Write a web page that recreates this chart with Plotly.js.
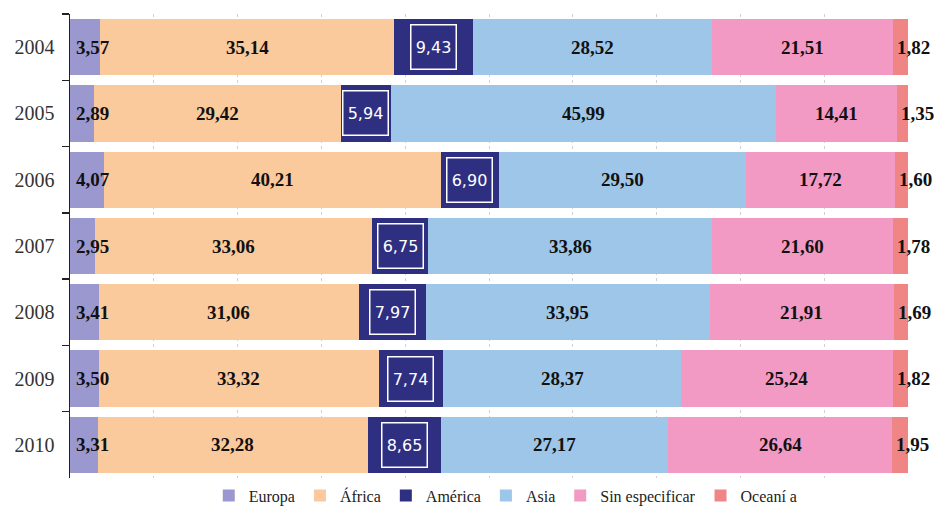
<!DOCTYPE html>
<html>
<head>
<meta charset="utf-8">
<script src="https://cdn.plot.ly/plotly-3.0.1.min.js"></script>
<style>html,body{margin:0;padding:0;background:#fff;}#chart{width:939px;height:508px;}</style>
</head>
<body>
<div id="chart"></div>
<script>
const years = ["2004","2005","2006","2007","2008","2009","2010"];
const europa = [3.57, 2.89, 4.07, 2.95, 3.41, 3.50, 3.31];
const africa = [35.14, 29.42, 40.21, 33.06, 31.06, 33.32, 32.28];
const america = [9.43, 5.94, 6.90, 6.75, 7.97, 7.74, 8.65];
const asia = [28.52, 45.99, 29.50, 33.86, 33.95, 28.37, 27.17];
const sinEsp = [21.51, 14.41, 17.72, 21.60, 21.91, 25.24, 26.64];
const oceania = [1.82, 1.35, 1.60, 1.78, 1.69, 1.82, 1.95];

const seriesNames = ["Europa", "África", "América", "Asia", "Sin especificar", "Oceaní a"];
const seriesData = [europa, africa, america, asia, sinEsp, oceania];
const colors = ["#9b98cf", "#fac99c", "#2e2f80", "#9dc6e8", "#f29ac3", "#f08585"];

const fmt = v => v.toFixed(2).replace(".", ",");
const serif = "Liberation Serif, Times New Roman, serif";

const traces = seriesData.map((d, i) => ({
  type: "bar",
  orientation: "h",
  name: seriesNames[i],
  x: d,
  y: years,
  marker: {color: colors[i], line: {width: 0}},
  hoverinfo: "x+name"
}));

const annotations = [];
years.forEach((yr, j) => {
  let cum = 0;
  seriesData.forEach((d, i) => {
    const v = d[j];
    const start = cum;
    cum += v;
    if (i === 2) {
      annotations.push({
        x: start + v / 2, y: j, xref: "x", yref: "y",
        text: fmt(v), showarrow: false,
        font: {family: "DejaVu Sans, Verdana, sans-serif", size: 16, color: "#ffffff"},
        bordercolor: "#ffffff", borderwidth: 1.5, borderpad: 1,
        width: 42, height: 41
      });
    } else if (i === 0 || i === 5) {
      annotations.push({
        x: start, y: j, xref: "x", yref: "y", xanchor: "left",
        xshift: i === 0 ? 4 : 2,
        text: "<b>" + fmt(v) + "</b>", showarrow: false,
        font: {family: serif, size: 19, color: "#111111"}
      });
    } else {
      annotations.push({
        x: start + v / 2, y: j, xref: "x", yref: "y",
        text: "<b>" + fmt(v) + "</b>", showarrow: false,
        font: {family: serif, size: 19, color: "#111111"}
      });
    }
  });
});

const layout = {
  width: 939, height: 508,
  margin: {l: 70, r: 31, t: 14, b: 30, autoexpand: false},
  barmode: "stack",
  bargap: 0.15,
  paper_bgcolor: "#ffffff",
  plot_bgcolor: "#ffffff",
  showlegend: true,
  legend: {
    orientation: "h", x: 0.52, xanchor: "center",
    yref: "container", y: 0.058, yanchor: "top",
    bgcolor: "rgba(0,0,0,0)",
    font: {family: serif, size: 16, color: "#222222"},
    itemwidth: 30, tracegroupgap: 0, traceorder: "normal"
  },
  xaxis: {
    range: [0, 100],
    showgrid: true, gridcolor: "#d0d0d0", griddash: "dot", gridwidth: 1,
    dtick: 10, showticklabels: false, zeroline: false, showline: false, ticks: ""
  },
  yaxis: {
    type: "category", autorange: "reversed",
    showline: true, linecolor: "#222222", linewidth: 1.5,
    ticks: "outside", ticklen: 7, tickcolor: "#222222", tickwidth: 1.5,
    tickson: "boundaries",
    showgrid: false, zeroline: false,
    tickfont: {family: serif, size: 20, color: "#333333"},
    ticklabelstandoff: 10
  },
  annotations: annotations
};

Plotly.newPlot("chart", traces, layout, {displayModeBar: false, staticPlot: true});
</script>
</body>
</html>
